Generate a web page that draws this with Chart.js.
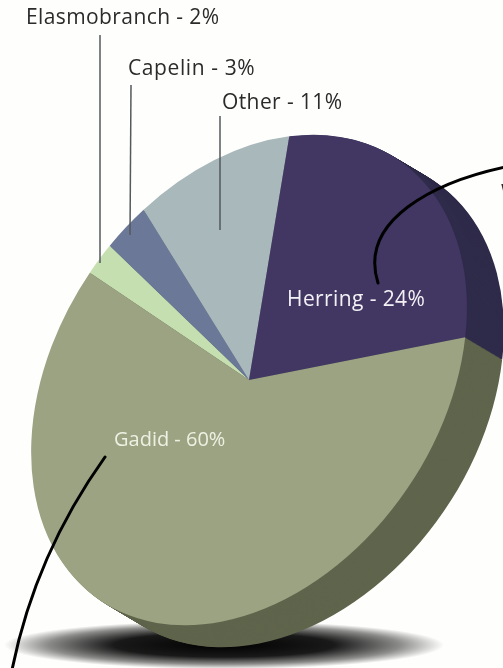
<!DOCTYPE html>
<html>
<head>
<meta charset="utf-8">
<style>
  html, body { margin: 0; padding: 0; background: #fefefc; }
  #wrap { width: 503px; height: 668px; overflow: hidden; }
</style>
<script src="https://cdn.jsdelivr.net/npm/chart.js@4"></script>
</head>
<body>
<div id="wrap"><canvas id="pie" width="503" height="668"></canvas></div>
<script>
const categories = ["Elasmobranch", "Capelin", "Other", "Herring", "Gadid"];
const shares = [2, 3, 11, 24, 60];
const faceColors = ["#c6dfb0", "#6b7898", "#a9b8bb", "#423762", "#9ba383"];
const sideColors = ["#8c9c7c", "#4a5470", "#7b8688", "#2f2b4a", "#5f654c"];

// label placement and leader lines, same order as categories
const labelSpots = [
  { x: 26, y: 24, color: "#2b2b2b", font: '21px "Open Sans"', spacing: "0.4px" },
  { x: 128, y: 75, color: "#2b2b2b", font: '21px "Open Sans"', spacing: "0.6px" },
  { x: 222, y: 109, color: "#2b2b2b", font: '21px "Open Sans"', spacing: "0.4px" },
  { x: 287, y: 306, color: "#f3f1f6", font: '21px "Open Sans"', spacing: "0.4px" },
  { x: 114, y: 446, color: "#eef1e2", font: '20px "Open Sans"', spacing: "0px" },
];
const thinLeaders = [
  [100, 35, 100, 263],
  [131, 85, 130, 235],
  [220, 116, 220, 230],
];

// the face is a tilted ellipse, not a circle
const tilt = -56 * Math.PI / 180;
const stretchLong = 266 / 230;
const stretchShort = 192 / 230;
const depth = { x: 37, y: 22, steps: 40 };

function tiltFace(ctx, cx, cy) {
  const ux = Math.cos(tilt), uy = Math.sin(tilt);
  const m11 = stretchLong * ux * ux + stretchShort * uy * uy;
  const m12 = (stretchLong - stretchShort) * ux * uy;
  const m22 = stretchLong * uy * uy + stretchShort * ux * ux;
  ctx.translate(cx, cy);
  ctx.transform(m11, m12, m12, m22, 0, 0);
  ctx.translate(-cx, -cy);
}

const fakeThreeD = {
  id: "fakeThreeD",
  beforeDraw(chart) {
    const ctx = chart.ctx;
    ctx.save();
    ctx.fillStyle = "#fefefc";
    ctx.fillRect(0, 0, chart.width, chart.height);
    // ground shadow
    ctx.translate(224, 645);
    ctx.scale(1, 24 / 220);
    const g = ctx.createRadialGradient(0, 0, 0, 0, 0, 220);
    g.addColorStop(0, "rgba(0,0,0,1)");
    g.addColorStop(0.5, "rgba(0,0,0,0.9)");
    g.addColorStop(0.8, "rgba(0,0,0,0.45)");
    g.addColorStop(1, "rgba(0,0,0,0)");
    ctx.fillStyle = g;
    ctx.beginPath();
    ctx.arc(0, 0, 220, 0, Math.PI * 2);
    ctx.fill();
    ctx.restore();
  },
  beforeDatasetsDraw(chart) {
    const ctx = chart.ctx;
    const arcs = chart.getDatasetMeta(0).data;
    for (let i = depth.steps; i >= 1; i--) {
      arcs.forEach((arc, k) => {
        ctx.save();
        ctx.translate(depth.x * i / depth.steps, depth.y * i / depth.steps);
        tiltFace(ctx, arc.x, arc.y);
        ctx.fillStyle = sideColors[k];
        ctx.beginPath();
        ctx.moveTo(arc.x, arc.y);
        ctx.arc(arc.x, arc.y, arc.outerRadius, arc.startAngle, arc.endAngle);
        ctx.closePath();
        ctx.fill();
        ctx.restore();
      });
    }
    ctx.save();
    tiltFace(ctx, arcs[0].x, arcs[0].y);
  },
  afterDatasetsDraw(chart) {
    const ctx = chart.ctx;
    ctx.restore();

    ctx.save();
    ctx.strokeStyle = "#55595c";
    ctx.lineWidth = 1.5;
    thinLeaders.forEach(l => {
      ctx.beginPath();
      ctx.moveTo(l[0], l[1]);
      ctx.lineTo(l[2], l[3]);
      ctx.stroke();
    });

    ctx.strokeStyle = "#000";
    ctx.lineWidth = 3;
    ctx.lineCap = "round";
    ctx.beginPath();
    ctx.moveTo(505, 167);
    ctx.bezierCurveTo(435, 182, 358, 220, 378, 283);
    ctx.stroke();
    ctx.beginPath();
    ctx.moveTo(105, 457);
    ctx.bezierCurveTo(60, 520, 28, 590, 12, 670);
    ctx.stroke();

    ctx.textBaseline = "alphabetic";
    categories.forEach((name, i) => {
      const spot = labelSpots[i];
      ctx.font = spot.font;
      ctx.letterSpacing = spot.spacing;
      ctx.fillStyle = spot.color;
      ctx.fillText(name + " - " + shares[i] + "%", spot.x, spot.y);
    });
    // cut-off word at the right edge of the source picture
    ctx.font = '21px "Open Sans"';
    ctx.letterSpacing = "0px";
    ctx.fillStyle = "#2b2b2b";
    ctx.fillText("W", 501, 200);
    ctx.restore();
  },
};

new Chart(document.getElementById("pie"), {
  type: "pie",
  data: {
    labels: categories,
    datasets: [{
      data: shares,
      backgroundColor: faceColors,
      borderWidth: 0,
      clip: false,
    }],
  },
  options: {
    responsive: false,
    animation: false,
    rotation: -56,
    layout: { padding: { left: 19, right: 24, top: 150, bottom: 58 } },
    plugins: {
      legend: { display: false },
      tooltip: { enabled: false },
    },
  },
  plugins: [fakeThreeD],
});
</script>
</body>
</html>
